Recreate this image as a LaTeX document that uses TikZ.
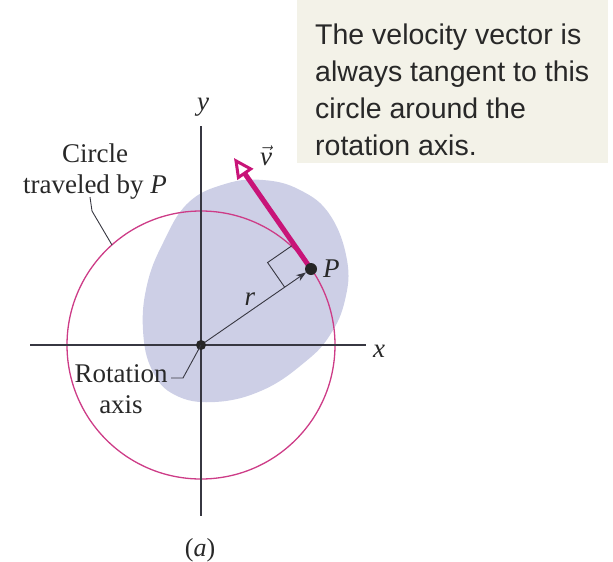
\documentclass[tikz,border=0pt]{standalone}
\usepackage{fontspec}
\setmainfont{Liberation Serif}
\newfontfamily\boxfont{Liberation Sans}
\usetikzlibrary{arrows.meta,calc}
\definecolor{blobc}{RGB}{205,207,230}
\definecolor{mag}{RGB}{200,20,120}
\definecolor{circmag}{RGB}{205,60,135}
\definecolor{axisgray}{RGB}{55,55,65}
\definecolor{boxbg}{RGB}{243,242,232}
\definecolor{txt}{RGB}{40,40,40}
\begin{document}
\begin{tikzpicture}[x=1pt,y=-1pt,
  lbl/.style={font=\fontsize{27}{31}\selectfont, inner sep=0pt, text=txt, align=center},
  axisline/.style={draw=axisgray, line width=1.4pt},
  leader/.style={draw=axisgray, line width=0.9pt},
  dotc/.style={fill=black!85}]
\useasboundingbox (0,0) rectangle (613,562);
% text box
\fill[boxbg] (297,0) rectangle (608,163);
\node[anchor=base west, inner sep=0pt, align=left, text=txt,
  font=\boxfont\fontsize{28.5}{36.7}\selectfont] (note) at (315,155)
  {The velocity vector is\\always tangent to this\\circle around the\\rotation axis.};
% blob
\fill[blobc] plot[smooth cycle, tension=0.7] coordinates {
  (263,180) (300,190) (330,215) (347,260) (345,300) (330,335) (305,362)
  (263,390) (215,402) (175,395) (152,370) (143,330) (147,285) (163,243)
  (188,203) (225,184)};
% coordinates
\coordinate (O) at (201,345);
\coordinate (P) at (311,269);
\coordinate (V) at (234,158);
\coordinate (xa) at (30,345);
\coordinate (xb) at (366,345);
\coordinate (ya) at (201,126);
\coordinate (yb) at (201,516);
% circle
\draw[circmag, line width=1.3pt] (O) circle[radius=134];
% axes
\draw[axisline] (xa) -- (xb);
\draw[axisline] (ya) -- (yb);
\node[lbl, anchor=base] (xl) at (379,357) {\textit{x}};
\node[lbl, anchor=base] (yl) at (203,110) {\textit{y}};
% r vector
\draw[axisgray, line width=0.9pt, -{Stealth[length=10pt,width=7pt]}] (O) -- ($(P)!6pt!(O)$);
\node[lbl, anchor=base] (rl) at (250,305) {\textit{r}};
% right angle mark
\coordinate (A) at ($(P)!30pt!(V)$);
\coordinate (B) at ($(P)!32pt!(O)$);
\coordinate (C) at ($(A)+(B)-(P)$);
\draw[axisgray, line width=0.9pt] (A) -- (C) -- (B);
% velocity vector
\draw[mag, line width=5pt, -{Triangle[open, length=20pt, width=19pt, line width=3pt, fill=white]}] (P) -- (V);
\node[lbl, anchor=base] (vl) at (266,165) {$\vec{\mbox{\textit{v}}}$};
% dots
\fill[dotc] (O) circle[radius=5];
\fill[dotc] (P) circle[radius=6];
\node[lbl, anchor=base west] (pl) at (323,277) {\textit{P}};
% labels
\node[lbl, anchor=base] (circlbl) at (95,193) {Circle\\traveled by \textit{P}};
\coordinate (c1) at (90,197);
\coordinate (c2) at (92,211);
\coordinate (c3) at (112,245);
\draw[leader] (c1) -- (c2) -- (c3);
\node[lbl, anchor=base] (rotlbl) at (121,413) {Rotation\\axis};
\coordinate (r1) at (171,378);
\coordinate (r2) at (183,378);
\draw[leader] (r1) -- (r2) -- (O);
\node[lbl, font=\fontsize{26}{30}\selectfont, anchor=base] (al) at (200,556) {(\textit{a})};
\end{tikzpicture}
\end{document}
